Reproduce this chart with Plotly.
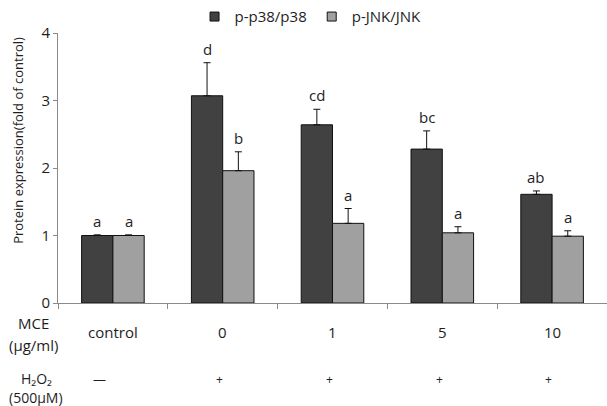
import plotly.graph_objects as go

categories = ["control", "0", "1", "5", "10"]
p38 = [1.0, 3.07, 2.64, 2.28, 1.61]
p38_err = [0.01, 0.49, 0.23, 0.27, 0.05]
jnk = [1.0, 1.96, 1.18, 1.04, 0.99]
jnk_err = [0.01, 0.28, 0.22, 0.09, 0.08]
p38_letters = ["a", "d", "cd", "bc", "ab"]
jnk_letters = ["a", "b", "a", "a", "a"]
h2o2_marks = ["\u2014", "+", "+", "+", "+"]

FONT = "Open Sans"
TXT = "#1e1e1e"
DARK = "#414141"
LIGHT = "#a0a0a0"
BARGAP = 0.43

fig = go.Figure()
fig.add_trace(go.Bar(
    name="p-p38/p38", x=categories, y=p38, showlegend=False,
    marker=dict(color=DARK, line=dict(color="#111111", width=1)),
    error_y=dict(type="data", array=p38_err, arrayminus=[0]*5, symmetric=False,
                 color="#111111", thickness=1, width=3.5),
))
fig.add_trace(go.Bar(
    name="p-JNK/JNK", x=categories, y=jnk, showlegend=False,
    marker=dict(color=LIGHT, line=dict(color="#111111", width=1)),
    error_y=dict(type="data", array=jnk_err, arrayminus=[0]*5, symmetric=False,
                 color="#111111", thickness=1, width=3.5),
))
# legend entries (small square swatches like the reference)
for name, col in (("p-p38/p38", DARK), ("p-JNK/JNK", LIGHT)):
    fig.add_trace(go.Scatter(
        name=name, x=[None], y=[None], mode="markers",
        marker=dict(symbol="square", size=9, color=col, line=dict(color="#111111", width=1)),
    ))

ann = []
half = (1 - BARGAP) / 4
for i, c in enumerate(categories):
    ann.append(dict(x=i - half, y=p38[i] + p38_err[i], xref="x", yref="y",
                    text=p38_letters[i], showarrow=False, yanchor="middle", yshift=14,
                    font=dict(size=15, color=TXT, family=FONT)))
    ann.append(dict(x=i + half, y=jnk[i] + jnk_err[i], xref="x", yref="y",
                    text=jnk_letters[i], showarrow=False, yanchor="middle", yshift=14,
                    font=dict(size=15, color=TXT, family=FONT)))
    # category labels row
    ann.append(dict(x=i, y=0, xref="x", yref="y", text=c, showarrow=False,
                    yanchor="middle", yshift=-29,
                    font=dict(size=15, color=TXT, family=FONT)))
    # H2O2 row
    ann.append(dict(x=i - (0.12 if i == 0 else 0.03), y=0, xref="x", yref="y", text=h2o2_marks[i],
                    showarrow=False, yanchor="middle", yshift=-76,
                    font=dict(size=12 if i else 13, color=TXT, family=FONT)))

# row headers
ann.append(dict(x=-0.045, y=0, xref="paper", yref="y", text="MCE",
                showarrow=False, xanchor="center", yanchor="middle", yshift=-20,
                borderpad=0, font=dict(size=15, color=TXT, family=FONT)))
ann.append(dict(x=-0.045, y=0, xref="paper", yref="y", text="(\u03bcg/ml)",
                showarrow=False, xanchor="center", yanchor="middle", yshift=-42,
                borderpad=0, font=dict(size=15, color=TXT, family=FONT)))
ann.append(dict(x=-0.04, y=0, xref="paper", yref="y",
                text="H\u2082O\u2082",
                showarrow=False, xanchor="center", yanchor="middle", yshift=-75,
                borderpad=0, font=dict(size=14, color=TXT, family=FONT)))
ann.append(dict(x=-0.04, y=0, xref="paper", yref="y",
                text="(500\u03bcM)",
                showarrow=False, xanchor="center", yanchor="middle", yshift=-94,
                borderpad=0, font=dict(size=14, color=TXT, family=FONT)))
# y axis title
ann.append(dict(x=-0.073, y=0.604, xref="paper", yref="paper",
                text="Protein expression(fold of control)", textangle=-90,
                showarrow=False, xanchor="center", yanchor="middle",
                font=dict(size=13, color=TXT, family=FONT)))

fig.update_layout(
    width=607, height=406,
    margin=dict(l=58, r=0, t=33, b=103, pad=0),
    paper_bgcolor="white", plot_bgcolor="white",
    barmode="group", bargap=BARGAP, bargroupgap=0,
    font=dict(family=FONT, size=15, color=TXT),
    showlegend=True,
    legend=dict(orientation="h", x=0.46, xanchor="center", y=1.06, yanchor="middle",
                font=dict(size=15, family=FONT, color=TXT),
                itemwidth=30, tracegroupgap=0, bgcolor="rgba(0,0,0,0)"),
    annotations=ann,
    xaxis=dict(type="category", showline=True, linecolor="#8a8a8a", linewidth=1,
               ticks="outside", tickson="boundaries", ticklen=5, tickcolor="#8a8a8a",
               showticklabels=False, showgrid=False, zeroline=False,
               range=[-0.5, 4.5]),
    yaxis=dict(range=[0, 4], dtick=1, showline=True, linecolor="#8a8a8a", linewidth=1,
               ticks="outside", ticklen=4, tickcolor="#8a8a8a", showgrid=False,
               zeroline=False, tickfont=dict(size=15, family=FONT, color=TXT)),
)

fig.write_html("out.html")
